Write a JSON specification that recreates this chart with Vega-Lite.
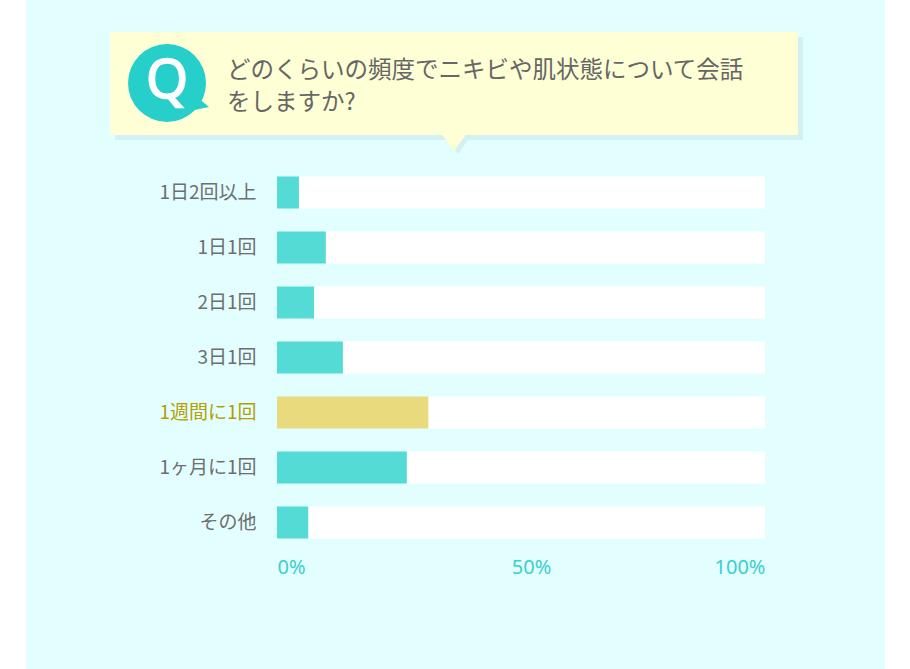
{
  "$schema": "https://vega.github.io/schema/vega-lite/v6.json",
  "autosize": "none",
  "width": 488,
  "height": 385,
  "padding": {"left": 277, "top": 165, "right": 145, "bottom": 119},
  "background": "#FFFFFF",
  "config": {"view": {"stroke": null}, "font": "Noto Sans CJK JP"},
  "datasets": {
    "freq": [
      {"item": "1日2回以上", "pct": 4.5},
      {"item": "1日1回", "pct": 10.0},
      {"item": "2日1回", "pct": 7.6},
      {"item": "3日1回", "pct": 13.5},
      {"item": "1週間に1回", "pct": 31.0},
      {"item": "1ヶ月に1回", "pct": 26.6},
      {"item": "その他", "pct": 6.4}
    ],
    "one": [{}]
  },
  "layer": [
    {
      "data": {"name": "one"},
      "mark": {"type": "rect", "fill": "#E3FEFF"},
      "encoding": {"x": {"value": -251}, "x2": {"value": 608}, "y": {"value": -165}, "y2": {"value": 504}}
    },
    {
      "data": {"name": "one"},
      "mark": {"type": "rect", "fill": "#D3F1F3"},
      "encoding": {"x": {"value": -162}, "x2": {"value": 526}, "y": {"value": -128}, "y2": {"value": -25}}
    },
    {
      "data": {"name": "one"},
      "mark": {"type": "point", "shape": "M -1 -0.69 L 1 -0.69 L 0 0.69 Z", "filled": true, "fill": "#D3F1F3", "opacity": 1, "size": 676, "strokeWidth": 0},
      "encoding": {"x": {"value": 181}, "y": {"value": -20}}
    },
    {
      "data": {"name": "one"},
      "mark": {"type": "rect", "fill": "#FEFFD5"},
      "encoding": {"x": {"value": -167}, "x2": {"value": 521}, "y": {"value": -133}, "y2": {"value": -30}}
    },
    {
      "data": {"name": "one"},
      "mark": {"type": "point", "shape": "M -1 -0.69 L 1 -0.69 L 0 0.69 Z", "filled": true, "fill": "#FEFFD5", "opacity": 1, "size": 676, "strokeWidth": 0},
      "encoding": {"x": {"value": 177}, "y": {"value": -23}}
    },
    {
      "data": {"name": "one"},
      "mark": {"type": "point", "shape": "M -0.8 -1 L 1 0.5 L -1 0.9 Z", "filled": true, "fill": "#27CFCB", "opacity": 1, "size": 256, "strokeWidth": 0},
      "encoding": {"x": {"value": -76}, "y": {"value": -62}}
    },
    {
      "data": {"name": "one"},
      "mark": {"type": "point", "shape": "circle", "filled": true, "fill": "#27CFCB", "opacity": 1, "size": 6084, "strokeWidth": 0},
      "encoding": {"x": {"value": -110}, "y": {"value": -82}}
    },
    {
      "data": {"name": "one"},
      "mark": {"type": "text", "text": "Q", "font": "Noto Sans", "fontSize": 54, "fill": "#FFFFFF", "stroke": "#FFFFFF", "strokeWidth": 1.6, "align": "center", "baseline": "middle", "dy": -1},
      "encoding": {"x": {"value": -110}, "y": {"value": -82}}
    },
    {
      "data": {"name": "one"},
      "mark": {"type": "text", "text": ["どのくらいの頻度でニキビや肌状態について会話", "をしますか?"], "fontSize": 23.5, "lineHeight": 32, "fill": "#666666", "align": "left", "baseline": "middle"},
      "encoding": {"x": {"value": -50}, "y": {"value": -94}}
    },
    {
      "data": {"name": "freq"},
      "mark": {"type": "bar", "fill": "#FFFFFF"},
      "encoding": {
        "y": {
          "field": "item", "type": "nominal", "sort": null,
          "scale": {"paddingInner": 0.418, "paddingOuter": 0.209},
          "axis": {
            "title": null, "domain": false, "ticks": false, "labelPadding": 21, "zindex": 2,
            "labelFontSize": 19, "labelFont": "Noto Sans CJK JP",
            "labelColor": {"condition": {"test": "datum.value === '1週間に1回'", "value": "#B59E00"}, "value": "#6E6E6E"}
          }
        },
        "x": {
          "field": "pct", "type": "quantitative",
          "scale": {"domain": [0, 100], "nice": false},
          "axis": {
            "title": null, "domain": false, "ticks": false, "grid": false, "zindex": 2,
            "values": [0, 50, 100], "labelExpr": "datum.value + '%'", "labelFlush": true,
            "labelOffset": {"condition": {"test": "datum.value === 50", "value": 10}, "value": 0},
            "labelPadding": 7, "labelFontSize": 20, "labelFont": "Noto Sans", "labelColor": "#3CCFCB"
          }
        },
        "x2": {"datum": 100}
      }
    },
    {
      "data": {"name": "freq"},
      "mark": {"type": "bar"},
      "encoding": {
        "y": {
          "field": "item", "type": "nominal", "sort": null,
          "scale": {"paddingInner": 0.418, "paddingOuter": 0.209},
          "axis": {
            "title": null, "domain": false, "ticks": false, "labelPadding": 21, "zindex": 2,
            "labelFontSize": 19, "labelFont": "Noto Sans CJK JP",
            "labelColor": {"condition": {"test": "datum.value === '1週間に1回'", "value": "#B59E00"}, "value": "#6E6E6E"}
          }
        },
        "x": {
          "field": "pct", "type": "quantitative",
          "scale": {"domain": [0, 100], "nice": false},
          "axis": {
            "title": null, "domain": false, "ticks": false, "grid": false, "zindex": 2,
            "values": [0, 50, 100], "labelExpr": "datum.value + '%'", "labelFlush": true,
            "labelOffset": {"condition": {"test": "datum.value === 50", "value": 10}, "value": 0},
            "labelPadding": 7, "labelFontSize": 20, "labelFont": "Noto Sans", "labelColor": "#3CCFCB"
          }
        },
        "color": {
          "condition": {"test": "datum.item === '1週間に1回'", "value": "#E8DA7D"},
          "value": "#55DBD6"
        }
      }
    }
  ]
}
